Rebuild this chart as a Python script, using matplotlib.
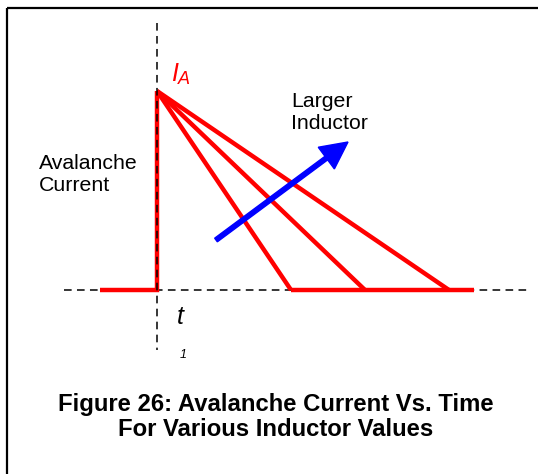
import matplotlib.pyplot as plt
from matplotlib.patches import Rectangle, FancyArrow

# DATA (pixel-like diagram units, y grows downward)
t1 = 157
baseline = 290
peak = 91
lead_in = 99.5
decay_ends = [291, 365, 449]
tail_end = 474
arrow_start = (216, 240)
arrow_end = (348, 142)

W, H = 538, 474

fig = plt.figure(figsize=(W / 100, H / 100), dpi=100)
ax = fig.add_axes([0, 0, 1, 1])
ax.set_xlim(0, W)
ax.set_ylim(H, 0)
ax.axis('off')

font = 'Liberation Sans'

# frame
ax.add_patch(Rectangle((7, 8), W, H, fill=False, edgecolor='black', linewidth=1.6))

# dashed axes
ax.plot([t1, t1], [23, 350], color='black', linestyle=(0, (5, 3.5)), linewidth=1.1, zorder=3)
ax.plot([64, 527], [baseline, baseline], color='black', linestyle=(0, (5, 3.5)), linewidth=1.1, zorder=1)

# red current waveform
red = '#ff0000'
lw = 3.2
ax.plot([lead_in, t1, t1], [baseline, baseline, peak], color=red, linewidth=lw,
        solid_capstyle='butt', solid_joinstyle='miter', zorder=2)
for xe in decay_ends:
    ax.plot([t1, xe], [peak, baseline], color=red, linewidth=lw, solid_capstyle='butt', zorder=2)
ax.plot([decay_ends[0], tail_end], [baseline, baseline], color=red, linewidth=lw,
        solid_capstyle='butt', zorder=2)

# blue arrow
dx = arrow_end[0] - arrow_start[0]
dy = arrow_end[1] - arrow_start[1]
ax.add_patch(FancyArrow(arrow_start[0], arrow_start[1], dx, dy, width=4.5,
                        head_width=27, head_length=27, length_includes_head=True,
                        color='#0000ff', zorder=4))

# labels
ax.text(171, 81, 'I', color=red, fontsize=18, family=font, style='italic', va='baseline')
ax.text(177.5, 84, 'A', color=red, fontsize=13, family=font, style='italic', va='baseline')
ax.text(291, 92, 'Larger\nInductor', fontsize=15.3, family=font, va='top', linespacing=1.2)
ax.text(39, 154, 'Avalanche\nCurrent', fontsize=15.3, family=font, va='top', linespacing=1.2)
ax.text(177, 324, 't', fontsize=18, family=font, style='italic', va='baseline')
ax.text(180, 358, '1', fontsize=9, family=font, style='italic', va='baseline')
ax.text(276, 417, 'Figure 26: Avalanche Current Vs. Time\nFor Various Inductor Values',
        fontsize=17.2, family=font, weight='bold', ha='center', va='center', linespacing=1.15)

fig.savefig('out.png', dpi=100)
